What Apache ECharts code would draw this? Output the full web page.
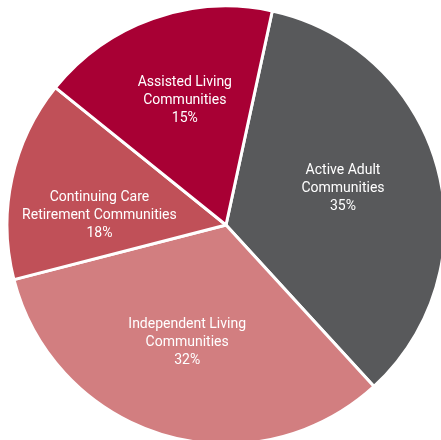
<!DOCTYPE html>
<html>
<head>
<meta charset="utf-8">
<script src="https://cdn.jsdelivr.net/npm/echarts@6/dist/echarts.min.js"></script>
<style>
html,body{margin:0;padding:0;background:#fff;}
#c{width:441px;height:440px;}
</style>
</head>
<body>
<div id="c"></div>
<script>
// Categories (clockwise from top), slice shares as drawn, and printed label percentages
const categories = ['Active Adult\nCommunities', 'Independent Living\nCommunities', 'Continuing Care\nRetirement Communities', 'Assisted Living\nCommunities'];
const shares = [34.8, 32.8, 14.8, 17.6];
const printedPercents = ['35%', '32%', '18%', '15%'];
const colors = ['#58595b', '#d27e80', '#c05058', '#a80034'];

const chart = echarts.init(document.getElementById('c'), null, {renderer: 'canvas'});
const labelOffsets = [[-8, -3], [-2, -7], [0, 18], [2, -2]];
const data = categories.map((n, i) => ({name: n, value: shares[i], pct: printedPercents[i]}));
const labelFont = 'Roboto, sans-serif';

chart.setOption({
  animation: false,
  backgroundColor: '#fff',
  series: [
    {
      type: 'pie',
      center: [226, 225],
      radius: [0, 219],
      startAngle: 77.8,
      clockwise: true,
      silent: true,
      data: data.map((d, i) => ({name: d.name, value: d.value, itemStyle: {color: colors[i]}})),
      itemStyle: {borderColor: '#fff', borderWidth: 3},
      label: {show: false},
      labelLine: {show: false}
    },
    {
      type: 'pie',
      center: [226, 225],
      radius: [34, 219],
      startAngle: 77.8,
      clockwise: true,
      silent: true,
      data: data.map((d, i) => ({name: d.name, value: d.value, pct: d.pct, label: {offset: labelOffsets[i]}})),
      itemStyle: {color: 'rgba(0,0,0,0)'},
      label: {
        show: true,
        position: 'inside',
        color: '#fff',
        fontFamily: labelFont,
        fontSize: 14,
        lineHeight: 18,
        align: 'center',
        formatter: (p) => p.name + '\n' + p.data.pct
      },
      labelLine: {show: false}
    }
  ]
});
</script>
</body>
</html>
